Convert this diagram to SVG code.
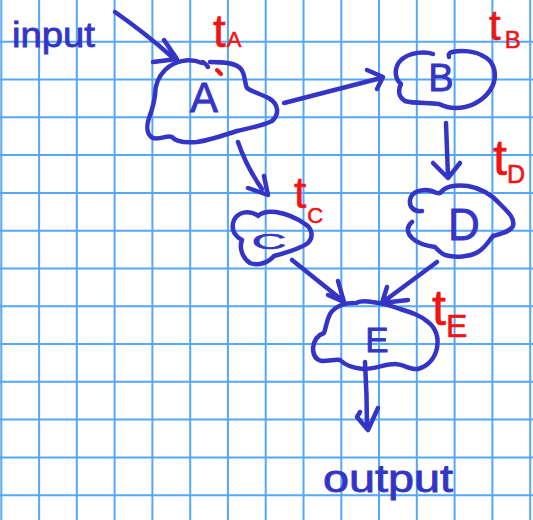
<svg xmlns="http://www.w3.org/2000/svg" width="533" height="520" viewBox="0 0 533 520">
  <style>
    .grid { stroke: #55a8f8; stroke-width: 2; fill: none; }
    .pen { stroke: #3434c6; stroke-width: 4.5; fill: none; stroke-linecap: round; stroke-linejoin: round; }
    .ink { fill: #3434c6; stroke: #3434c6; stroke-width: 0.8; font-family: "Liberation Sans", Arial, sans-serif; }
    .red { fill: #f21414; stroke: #f21414; stroke-width: 0.6; font-family: "Liberation Sans", Arial, sans-serif; }
    .redpen { stroke: #f21414; stroke-width: 4; fill: none; stroke-linecap: round; }
  </style>
  <rect width="533" height="520" fill="#ffffff"/>
  <!-- graph paper -->
  <path class="grid" d="M1.3,0V520 M39.1,0V520 M76.8,0V520 M114.6,0V520 M152.4,0V520 M190.2,0V520 M227.9,0V520 M265.7,0V520 M303.5,0V520 M341.3,0V520 M379,0V520 M416.8,0V520 M454.6,0V520 M492.4,0V520 M530.2,0V520
    M0,41.7H533 M0,79.5H533 M0,117.3H533 M0,155.1H533 M0,192.9H533 M0,230.7H533 M0,268.5H533 M0,306.3H533 M0,344H533 M0,381.8H533 M0,419.6H533 M0,457.4H533 M0,495.2H533"/>

  <!-- free labels -->
  <g id="input">
    <text class="ink" x="12" y="47" font-size="35" textLength="83" lengthAdjust="spacingAndGlyphs">input</text>
  </g>
  <g id="output">
    <text class="ink" x="323" y="492" font-size="38" textLength="130" lengthAdjust="spacingAndGlyphs">output</text>
  </g>

  <!-- connectors -->
  <g id="connectors" class="pen">
    <path d="M115,12 Q145,33 171,56 M164,40 L177,59 L153,62"/>
    <path d="M284,103 Q330,91 381,78 M367,70 L383,77 L377,89"/>
    <path d="M238,142 Q246,166 262,189 M248,188 L268,195 L264,176"/>
    <path d="M446,123 L448,177 M433,163 L448,178 L460,163"/>
    <path d="M292,260 L342,300 M328,295 L344,302 L338,281"/>
    <path d="M437,262 L383,302 M387,287 L382,303 L408,300"/>
    <path d="M365,362 Q367,395 367,428 M360,412 L357,417 L368,430 L378,408"/>
  </g>

  <!-- node A -->
  <g id="node-A">
    <path class="pen" d="M202,63 C190,58 175,60 165,70 C157,78 155,88 155,95 C154,103 152,110 149,118 C146,127 147,135 153,138 C160,140 167,135 172,137 C176,142 185,143 197,142 C210,140 225,135 237,131 C250,128 262,126 272,121 C280,114 278,104 270,99 C262,94 252,92 247,88 C244,82 246,76 241,69 C236,63 225,62 210,62"/>
    <path class="pen" d="M203,62 Q206,64 208,67"/>
    <path class="redpen" d="M217,70 L221,74"/>
    <text class="ink" x="204" y="112" font-size="42" text-anchor="middle">A</text>
    <text class="red" x="213" y="47" font-size="46">t<tspan font-size="22" dx="1">A</tspan></text>
  </g>

  <!-- node B -->
  <g id="node-B">
    <path class="pen" d="M433,54 C425,51 410,52 401,60 C394,67 394,78 401,84 C398,90 398,97 405,101 C415,104 430,102 439,104 C447,108 455,109 465,107 C478,104 490,95 494,82 C497,70 492,60 483,56 C475,51 462,50 452,52 C449,53 448,55 449,57"/>
    <text class="ink" x="441" y="91" font-size="38" text-anchor="middle">B</text>
    <text class="red" x="489" y="40" font-size="42">t<tspan font-size="24" dx="4" dy="8">B</tspan></text>
  </g>

  <!-- node C -->
  <g id="node-C">
    <path class="pen" d="M257,215 C248,210 238,212 234,220 C231,228 233,235 242,240 C239,247 242,258 250,263 C258,266 268,263 274,256 C285,253 300,249 308,243 C314,237 312,228 305,224 C298,219 288,214 276,212 C268,211 262,212 258,216"/>
    <text class="ink" font-size="30" text-anchor="middle" transform="translate(269,249) scale(1.6,0.75)">C</text>
    <text class="red" x="294" y="208" font-size="44">t<tspan font-size="22" dx="1" dy="15">C</tspan></text>
  </g>

  <!-- node D -->
  <g id="node-D">
    <path class="pen" d="M422,211 C414,212 409,207 410,200 C411,192 422,188 432,191 C436,193 440,195 443,190 C448,186 458,185 468,186 C480,188 492,195 500,204 C508,212 515,218 513,226 C510,232 500,234 493,236 C488,242 485,248 478,252 C470,257 455,258 445,255 C440,253 437,249 435,247 C428,246 418,244 412,238 C406,232 407,226 412,222"/>
    <text class="ink" x="464" y="240" font-size="44" text-anchor="middle">D</text>
    <text class="red" x="493" y="175" font-size="50">t<tspan font-size="25" dx="0" dy="8">D</tspan></text>
  </g>

  <!-- node E -->
  <g id="node-E">
    <path class="pen" d="M353,303 C345,303 335,306 330,314 C326,322 326,328 324,333 C318,335 314,340 313,348 C313,356 316,360 322,361 C330,361 336,359 340,360 C345,365 352,368 363,369 C375,369 385,364 395,364 C403,364 410,370 418,369 C428,366 435,358 437,348 C439,338 436,328 428,322 C420,315 410,312 400,309 C392,306 382,303 372,302 C366,301 360,301 356,303"/>
    <text class="ink" x="377" y="352" font-size="35" text-anchor="middle">E</text>
    <text class="red" x="432" y="325" font-size="50">t<tspan font-size="32" dx="0" dy="12">E</tspan></text>
  </g>
</svg>
